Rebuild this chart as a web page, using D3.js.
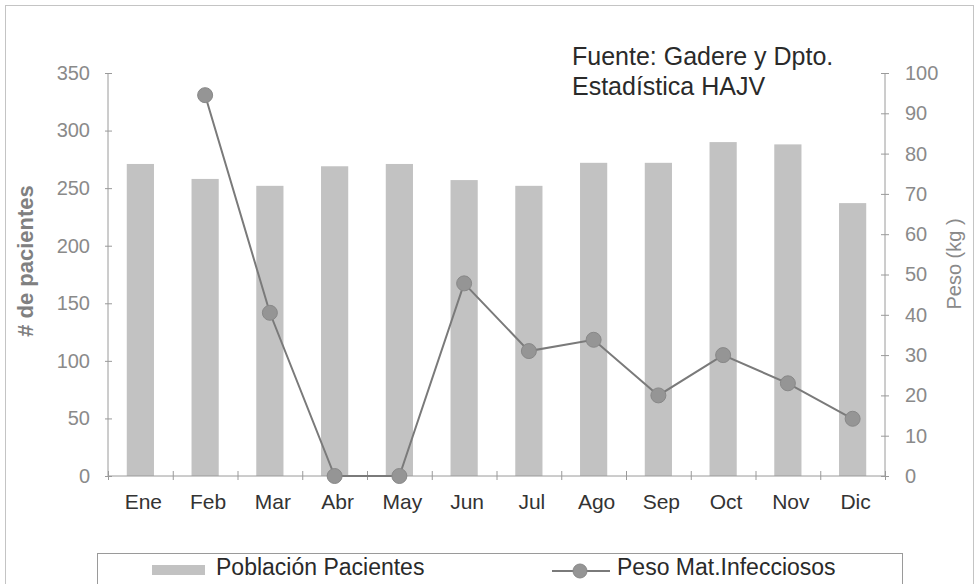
<!DOCTYPE html>
<html>
<head>
<meta charset="utf-8">
<script src="https://cdn.jsdelivr.net/npm/d3@7"></script>
<style>
body { margin: 0; background: #fff; }
svg text { font-family: "Liberation Sans", Arial, sans-serif; }
</style>
</head>
<body>
<svg id="chart" width="977" height="584"></svg>

<script>
// data
var months = ["Ene", "Feb", "Mar", "Abr", "May", "Jun", "Jul", "Ago", "Sep", "Oct", "Nov", "Dic"];
var pacientes = [271, 258, 252, 269, 271, 257, 252, 272, 272, 290, 288, 237];
var peso = [null, 94.5, 40.5, 0, 0, 47.8, 31, 33.8, 20, 30, 23, 14.2];
var leftTicks = [0, 50, 100, 150, 200, 250, 300, 350];
var rightTicks = [0, 10, 20, 30, 40, 50, 60, 70, 80, 90, 100];

var svg = d3.select("#chart");

// plot edges (window.top is reserved, so use other names)
var plotL = 108, plotR = 885, plotT = 73, plotB = 476;

var x = d3.scaleBand().domain(months).range([plotL, plotR]).paddingInner(0.58).paddingOuter(0.29);
var yL = d3.scaleLinear().domain([0, 350]).range([plotB, plotT]);
var yR = d3.scaleLinear().domain([0, 100]).range([plotB, plotT]);
var xEdge = d3.scaleLinear().domain([0, months.length]).range([plotL, plotR]);

// outer frame
svg.append("rect").attr("x", 5.5).attr("y", 5.5).attr("width", 968).attr("height", 640)
  .attr("fill", "none").attr("stroke", "#c4c4c4");

// bars
svg.append("g").selectAll("rect").data(pacientes).enter().append("rect")
  .attr("x", function(d, i) { return x(months[i]); })
  .attr("y", function(d) { return yL(d); })
  .attr("width", x.bandwidth())
  .attr("height", function(d) { return plotB - yL(d); })
  .attr("fill", "#c2c2c2");

// left axis
var gL = svg.append("g").attr("transform", "translate(" + plotL + ",0)")
  .call(d3.axisLeft(yL).tickValues(leftTicks).tickSize(4).tickPadding(14));
gL.selectAll(".tick line").attr("x1", -3).attr("x2", 4);
gL.select(".domain").attr("d", "M0," + plotT + "V" + plotB);

// right axis
var gR = svg.append("g").attr("transform", "translate(" + plotR + ",0)")
  .call(d3.axisRight(yR).tickValues(rightTicks).tickSize(4).tickPadding(16));
gR.selectAll(".tick line").attr("x1", -4).attr("x2", 4);
gR.select(".domain").attr("d", "M0," + plotT + "V" + plotB);

// x axis: ticks between categories
var gX = svg.append("g").attr("transform", "translate(0," + plotB + ")")
  .call(d3.axisBottom(xEdge).tickValues(d3.range(months.length + 1)).tickSize(4).tickFormat(""));
gX.selectAll(".tick line").attr("y1", -5).attr("y2", 4);
gX.select(".domain").attr("d", "M" + plotL + ",0H" + plotR);

[gL, gR, gX].forEach(function(g) {
  g.selectAll("line, path").attr("stroke", "#9a9a9a");
  g.selectAll("text").attr("font-size", 20).attr("fill", "#8a8a8a")
    .style("font-family", "'Liberation Sans', Arial, sans-serif");
});

// month labels
svg.append("g").selectAll("text").data(months).enter().append("text")
  .attr("x", function(d) { return x(d) + x.bandwidth() / 2 + 3; })
  .attr("y", 509)
  .attr("text-anchor", "middle")
  .attr("font-size", 21)
  .attr("fill", "#333")
  .text(function(d) { return d; });

// line
var pts = peso.map(function(d, i) { return { m: months[i], v: d }; }).filter(function(d) { return d.v !== null; });
var line = d3.line()
  .x(function(d) { return x(d.m) + x.bandwidth() / 2; })
  .y(function(d) { return yR(d.v); });
svg.append("path").datum(pts).attr("d", line)
  .attr("fill", "none").attr("stroke", "#7a7a7a").attr("stroke-width", 2);
svg.append("g").selectAll("circle").data(pts).enter().append("circle")
  .attr("cx", function(d) { return x(d.m) + x.bandwidth() / 2; })
  .attr("cy", function(d) { return yR(d.v); })
  .attr("r", 7.5)
  .attr("fill", "#959595").attr("stroke", "#888").attr("stroke-width", 1);

// axis titles
svg.append("text").attr("transform", "translate(33,261) rotate(-90)")
  .attr("text-anchor", "middle").attr("font-size", 22).attr("font-weight", "bold").attr("fill", "#808080")
  .text("# de pacientes");
svg.append("text").attr("transform", "translate(961,264) rotate(-90)")
  .attr("text-anchor", "middle").attr("font-size", 20).attr("fill", "#8a8a8a")
  .text("Peso (kg )");

// source note
svg.append("text").attr("x", 572).attr("y", 65).attr("font-size", 25).attr("fill", "#2a2a2a")
  .text("Fuente: Gadere y Dpto.");
svg.append("text").attr("x", 572).attr("y", 95).attr("font-size", 25).attr("fill", "#2a2a2a")
  .text("Estadística HAJV");

// legend
var lg = svg.append("g");
lg.append("rect").attr("x", 97.5).attr("y", 553.5).attr("width", 805).attr("height", 60)
  .attr("fill", "#fff").attr("stroke", "#9a9a9a");
lg.append("rect").attr("x", 152).attr("y", 565).attr("width", 53).attr("height", 10).attr("fill", "#c2c2c2");
lg.append("text").attr("x", 216).attr("y", 575).attr("font-size", 23).attr("fill", "#2a2a2a")
  .text("Población Pacientes");
lg.append("line").attr("x1", 552).attr("x2", 610).attr("y1", 571).attr("y2", 571)
  .attr("stroke", "#7a7a7a").attr("stroke-width", 2);
lg.append("circle").attr("cx", 580).attr("cy", 571).attr("r", 7).attr("fill", "#959595").attr("stroke", "#888");
lg.append("text").attr("x", 617).attr("y", 575).attr("font-size", 23).attr("fill", "#2a2a2a")
  .text("Peso Mat.Infecciosos");
</script>
</body>
</html>
